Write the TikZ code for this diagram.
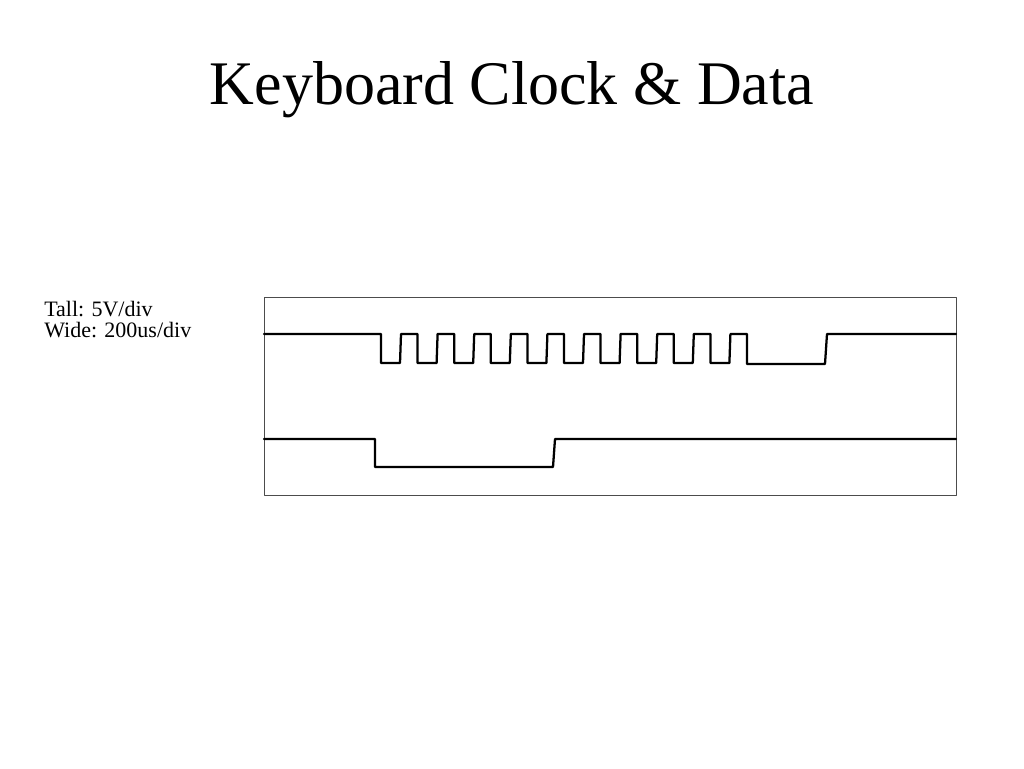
\documentclass[tikz,border=0pt]{standalone}
\usepackage{fontspec}
\setmainfont{Liberation Serif}
\begin{document}
\begin{tikzpicture}[line cap=round,line join=round,x=0.75pt,y=-0.75pt]
\useasboundingbox (0,0) rectangle (1024,768);
\tikzset{trace/.style={line width=1.7pt,black},
  frame/.style={line width=0.7pt,black!70}}
\node[anchor=base,font=\fontsize{46.5}{50}\selectfont] (title) at (512,104) {Keyboard Clock \& Data};
\node[anchor=north west,inner sep=0pt,align=left,font=\fontsize{16.5}{16}\selectfont] (scale) at (44,301) {Tall: 5V/div\\Wide: 200us/div};
\draw[frame] (264,297) rectangle (956,495);
% clock
\draw[trace] (264,334) -- (381,334)
  \foreach \k in {0,...,9} {
    -- ({381+36.6*\k},363) -- ({400+36.6*\k},363)
    -- ({401+36.6*\k},334) -- ({417.6+36.6*\k},334) }
  -- (747,364) -- (825,364) -- (827,334) -- (956,334);
% data
\draw[trace] (264,439) -- (375,439) -- (375,467) -- (553,467) -- (555,439) -- (956,439);
\end{tikzpicture}
\end{document}
